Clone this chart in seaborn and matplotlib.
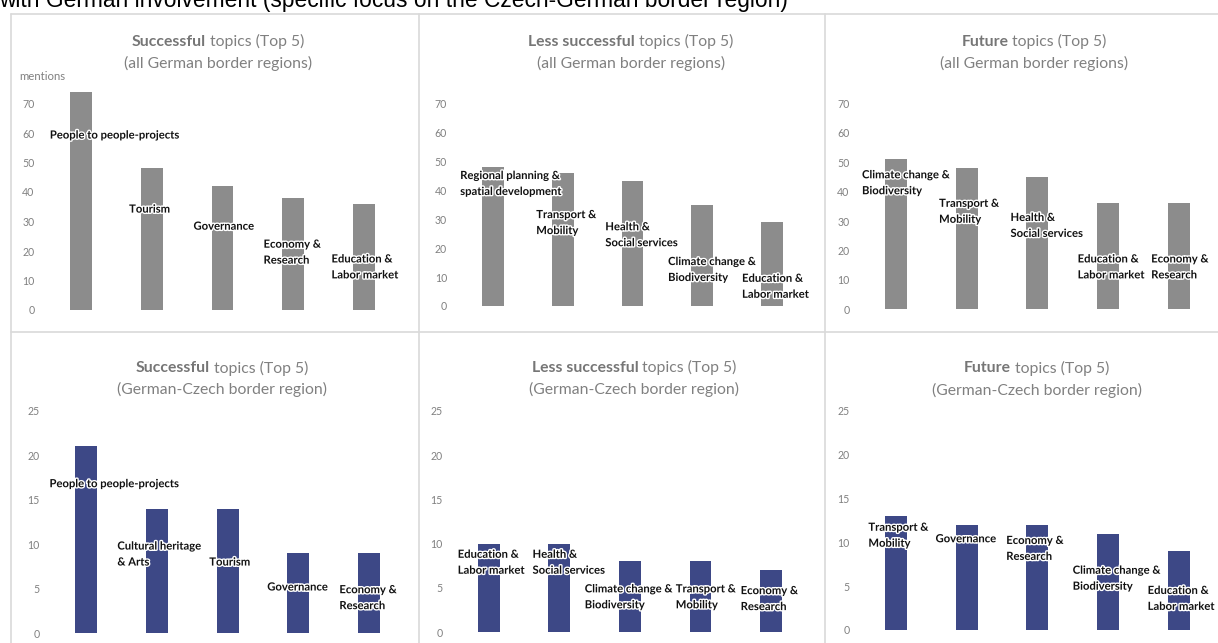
import matplotlib
matplotlib.use("Agg")
import matplotlib.pyplot as plt
import pandas as pd
import seaborn as sns
from matplotlib import patheffects as pe
from matplotlib.lines import Line2D

# ---- data: mentions per topic -------------------------------------------
success_all_topics = ["People to people-projects", "Tourism", "Governance",
                      "Economy &\nResearch", "Education &\nLabor market"]
success_all_counts = [74, 48, 42, 38, 36]

less_all_topics = ["Regional planning &\nspatial development", "Transport &\nMobility",
                   "Health &\nSocial services", "Climate change &\nBiodiversity",
                   "Education &\nLabor market"]
less_all_counts = [48, 46, 43, 35, 29]

future_all_topics = ["Climate change &\nBiodiversity", "Transport &\nMobility",
                     "Health &\nSocial services", "Education &\nLabor market",
                     "Economy &\nResearch"]
future_all_counts = [51, 48, 45, 36, 36]

success_cz_topics = ["People to people-projects", "Cultural heritage\n& Arts", "Tourism",
                     "Governance", "Economy &\nResearch"]
success_cz_counts = [21, 14, 14, 9, 9]

less_cz_topics = ["Education &\nLabor market", "Health &\nSocial services",
                  "Climate change &\nBiodiversity", "Transport &\nMobility",
                  "Economy &\nResearch"]
less_cz_counts = [10, 10, 8, 8, 7]

future_cz_topics = ["Transport &\nMobility", "Governance", "Economy &\nResearch",
                    "Climate change &\nBiodiversity", "Education &\nLabor market"]
future_cz_counts = [13, 12, 12, 11, 9]

title_bold = ["Successful", "Less successful", "Future"]
title_rest = " topics (Top 5)"
subtitles = ["(all German border regions)", "(German-Czech border region)"]
yticks_all = [0, 10, 20, 30, 40, 50, 60, 70]
yticks_cz = [0, 5, 10, 15, 20, 25]
header = "with German involvement (specific focus on the Czech-German border region)"

# ---- layout ---------------------------------------------------------------
W, H = 1218, 643
GREY_BAR = "#8c8c8c"
BLUE_BAR = "#3d4886"
TEXT_GREY = "#808080"
FRAME = "#d9d9d9"

sns.set_theme(style="white")
plt.rcParams["font.family"] = ["Lato", "DejaVu Sans"]

fig = plt.figure(figsize=(W / 100, H / 100), dpi=100)


def fx(px):
    return px / W


def fy(py):
    return 1 - py / H


# panel boxes in pixels: left, right, top, bottom (zero line), y max
panels = [
    dict(topics=success_all_topics, counts=success_all_counts, box=(45.6, 399.4, 74.0, 310.0),
         ymax=80, ticks=yticks_all, color=GREY_BAR, bold=0, sub=0, tx=218, ty=(41.7, 63.0),
         lab_dx=[-0.44, -0.32, -0.41, -0.42, -0.46], lab_y=[59.3, 34.2, 28.4, 19.6, 14.6]),
    dict(topics=less_all_topics, counts=less_all_counts, box=(458.1, 806.9, 74.3, 306.0),
         ymax=80, ticks=yticks_all, color=GREY_BAR, bold=1, sub=0, tx=630.7, ty=(41.7, 63.0),
         lab_dx=[-0.47, -0.38, -0.39, -0.49, -0.43], lab_y=[42.3, 28.8, 24.6, 12.6, 6.8]),
    dict(topics=future_all_topics, counts=future_all_counts, box=(860.6, 1214.1, 73.9, 309.3),
         ymax=80, ticks=yticks_all, color=GREY_BAR, bold=2, sub=0, tx=1034, ty=(41.7, 63.0),
         lab_dx=[-0.48, -0.39, -0.38, -0.43, -0.39], lab_y=[43.0, 33.3, 28.5, 14.4, 14.4]),
    dict(topics=success_cz_topics, counts=success_cz_counts, box=(50.9, 404.4, 410.7, 633.3),
         ymax=25, ticks=yticks_cz, color=BLUE_BAR, bold=0, sub=1, tx=221.7, ty=(368.3, 389.3),
         lab_dx=[-0.52, -0.56, -0.26, -0.44, -0.42], lab_y=[16.8, 8.9, 8.0, 5.2, 4.0]),
    dict(topics=less_cz_topics, counts=less_cz_counts, box=(453.5, 806.3, 410.7, 632.3),
         ymax=25, ticks=yticks_cz, color=BLUE_BAR, bold=1, sub=1, tx=634.3, ty=(367.7, 389.0),
         lab_dx=[-0.44, -0.38, -0.64, -0.35, -0.43], lab_y=[7.9, 7.9, 4.0, 4.0, 3.8]),
    dict(topics=future_cz_topics, counts=future_cz_counts, box=(860.6, 1214.1, 410.7, 630.0),
         ymax=25, ticks=yticks_cz, color=BLUE_BAR, bold=2, sub=1, tx=1036.7, ty=(368.3, 390.0),
         lab_dx=[-0.39, -0.44, -0.44, -0.50, -0.44], lab_y=[10.8, 10.4, 9.3, 5.9, 3.6]),
]

halo = [pe.withStroke(linewidth=2.0, foreground="white")]

for p in panels:
    left, right, top, bottom = p["box"]
    ax = fig.add_axes([fx(left), fy(bottom), fx(right) - fx(left), fy(top) - fy(bottom)])
    df = pd.DataFrame({"topic": p["topics"], "mentions": p["counts"]})
    sns.barplot(data=df, x="topic", y="mentions", order=p["topics"], color=p["color"],
                saturation=1, width=0.31, linewidth=0, ax=ax)
    ax.set_xlim(-0.5, 4.5)
    ax.set_ylim(0, p["ymax"])
    ax.set_yticks(p["ticks"])
    ax.set_xticks([])
    ax.set_xlabel("")
    ax.set_ylabel("")
    ax.tick_params(axis="y", length=0, pad=8, labelsize=7.6, labelcolor=TEXT_GREY)
    for s in ax.spines.values():
        s.set_visible(False)
    ax.patch.set_alpha(0)

    # topic labels placed beside/over the bars
    for i, name in enumerate(p["topics"]):
        ax.text(i + p["lab_dx"][i], p["lab_y"][i], name, ha="left", va="center",
                fontsize=8.1, fontweight="bold", color="#111111", linespacing=1.55,
                path_effects=halo)

fig.text(fx(19), fy(77), "mentions", ha="left", va="center", fontsize=8.2, color=TEXT_GREY)

# panel frame lines
frame_lines = [
    ((11, 1218), (14, 14)),
    ((11, 1218), (332, 332)),
    ((11, 11), (14, 643)),
    ((419, 419), (14, 643)),
    ((825, 825), (14, 643)),
]
for xs, ys in frame_lines:
    fig.add_artist(Line2D([fx(xs[0]), fx(xs[1])], [fy(ys[0]), fy(ys[1])],
                          transform=fig.transFigure, color=FRAME, lw=1.2))

# header line running above the panels
fig.text(fx(-1), fy(7), header, ha="left", va="baseline", fontsize=16.4,
         family=["Liberation Sans", "DejaVu Sans"], color="black")

# panel titles: bold lead word(s) followed by regular text, centred as a group
fig.canvas.draw()
renderer = fig.canvas.get_renderer()
TITLE_SIZE = 11.3
for p in panels:
    y1, y2 = p["ty"]
    tb = fig.text(0, fy(y1), title_bold[p["bold"]], ha="left", va="center",
                  fontsize=TITLE_SIZE, fontweight="bold", color="#767676")
    tr = fig.text(0, fy(y1), title_rest, ha="left", va="center",
                  fontsize=TITLE_SIZE, color=TEXT_GREY)
    wb = tb.get_window_extent(renderer).width
    wr = tr.get_window_extent(renderer).width
    x0 = p["tx"] - (wb + wr) / 2
    tb.set_x(fx(x0))
    tr.set_x(fx(x0 + wb))
    fig.text(fx(p["tx"]), fy(y2), subtitles[p["sub"]], ha="center", va="center",
             fontsize=TITLE_SIZE, color=TEXT_GREY)

fig.savefig("out.png", dpi=100, facecolor="white")
